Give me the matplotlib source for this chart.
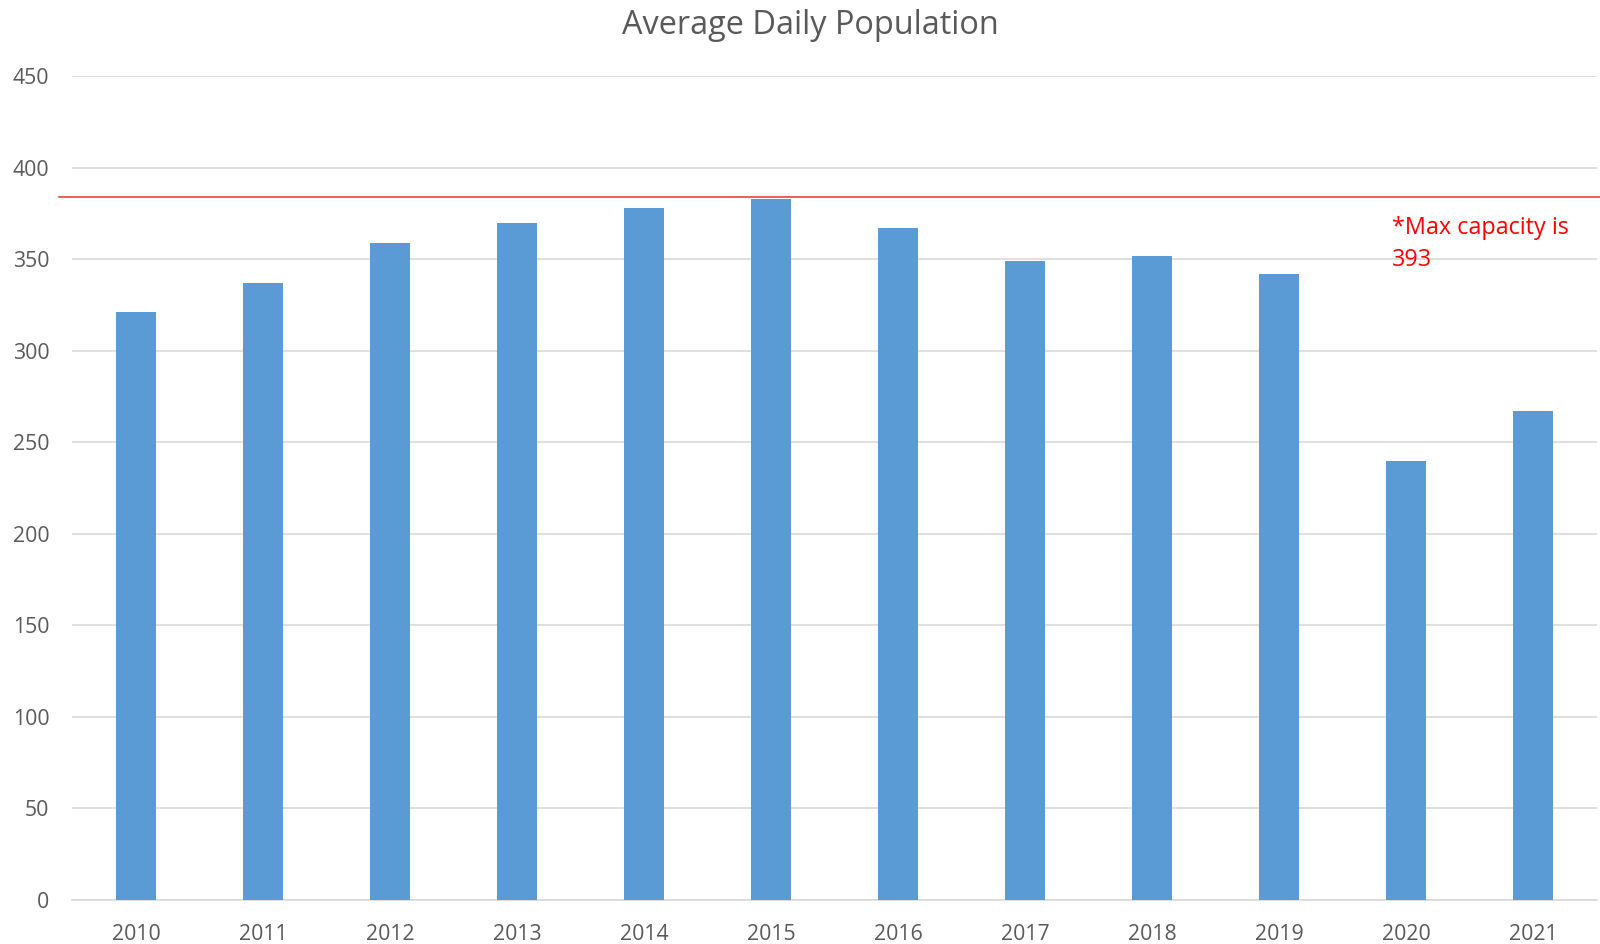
import matplotlib
matplotlib.use("Agg")
import matplotlib.pyplot as plt
import matplotlib.transforms as mtransforms

years = ["2010", "2011", "2012", "2013", "2014", "2015",
         "2016", "2017", "2018", "2019", "2020", "2021"]
population = [321, 337, 359, 370, 378, 383, 367, 349, 352, 342, 240, 267]
capacity_line = 384
note_lines = ["*Max capacity is", "393"]
y_ticks = [0, 50, 100, 150, 200, 250, 300, 350, 400, 450]

W, H = 1600, 944
plt.rcParams['font.family'] = ['Open Sans', 'DejaVu Sans']
fig = plt.figure(figsize=(W / 100, H / 100), dpi=100)
ax = fig.add_axes([72.4 / W, 1 - 900 / H, (1596.5 - 72.4) / W, (900 - 76.3) / H])

gray = '#595959'
x = list(range(len(years)))
ax.bar(x, population, width=0.315, color='#5B9BD5', zorder=3)
ax.set_xlim(-0.5, len(years) - 0.5)
ax.set_ylim(0, 450)
ax.set_yticks(y_ticks)
ax.set_xticks(x)
ax.set_xticklabels(years)
ax.grid(axis='y', color='#d9d9d9', linewidth=1.2, zorder=0)
for s in ['top', 'right', 'left']:
    ax.spines[s].set_visible(False)
ax.spines['bottom'].set_color('#d9d9d9')
ax.spines['bottom'].set_linewidth(1.2)
ax.tick_params(axis='y', length=0, pad=16.5, labelsize=15.3, labelcolor=gray)
ax.tick_params(axis='x', length=0, pad=17, labelsize=15.3, labelcolor=gray)

# capacity line
trans = mtransforms.blended_transform_factory(ax.transAxes, ax.transData)
x0 = (59 - 72.4) / (1596.5 - 72.4)
ax.plot([x0, 1.01], [capacity_line, capacity_line], color='#e8312f', lw=1.1,
        transform=trans, clip_on=False, zorder=4)

fig.text(1391.5 / W, 1 - 234.3 / H, note_lines[0], color='#ff0000', fontsize=16.8,
         ha='left', va='baseline')
fig.text(1391.5 / W, 1 - 266.5 / H, note_lines[1], color='#ff0000', fontsize=16.8,
         ha='left', va='baseline')

fig.text(810 / W, 1 - 34.3 / H, "Average Daily Population", color=gray, fontsize=23.4,
         ha='center', va='baseline')

fig.savefig('out.png', dpi=100)
